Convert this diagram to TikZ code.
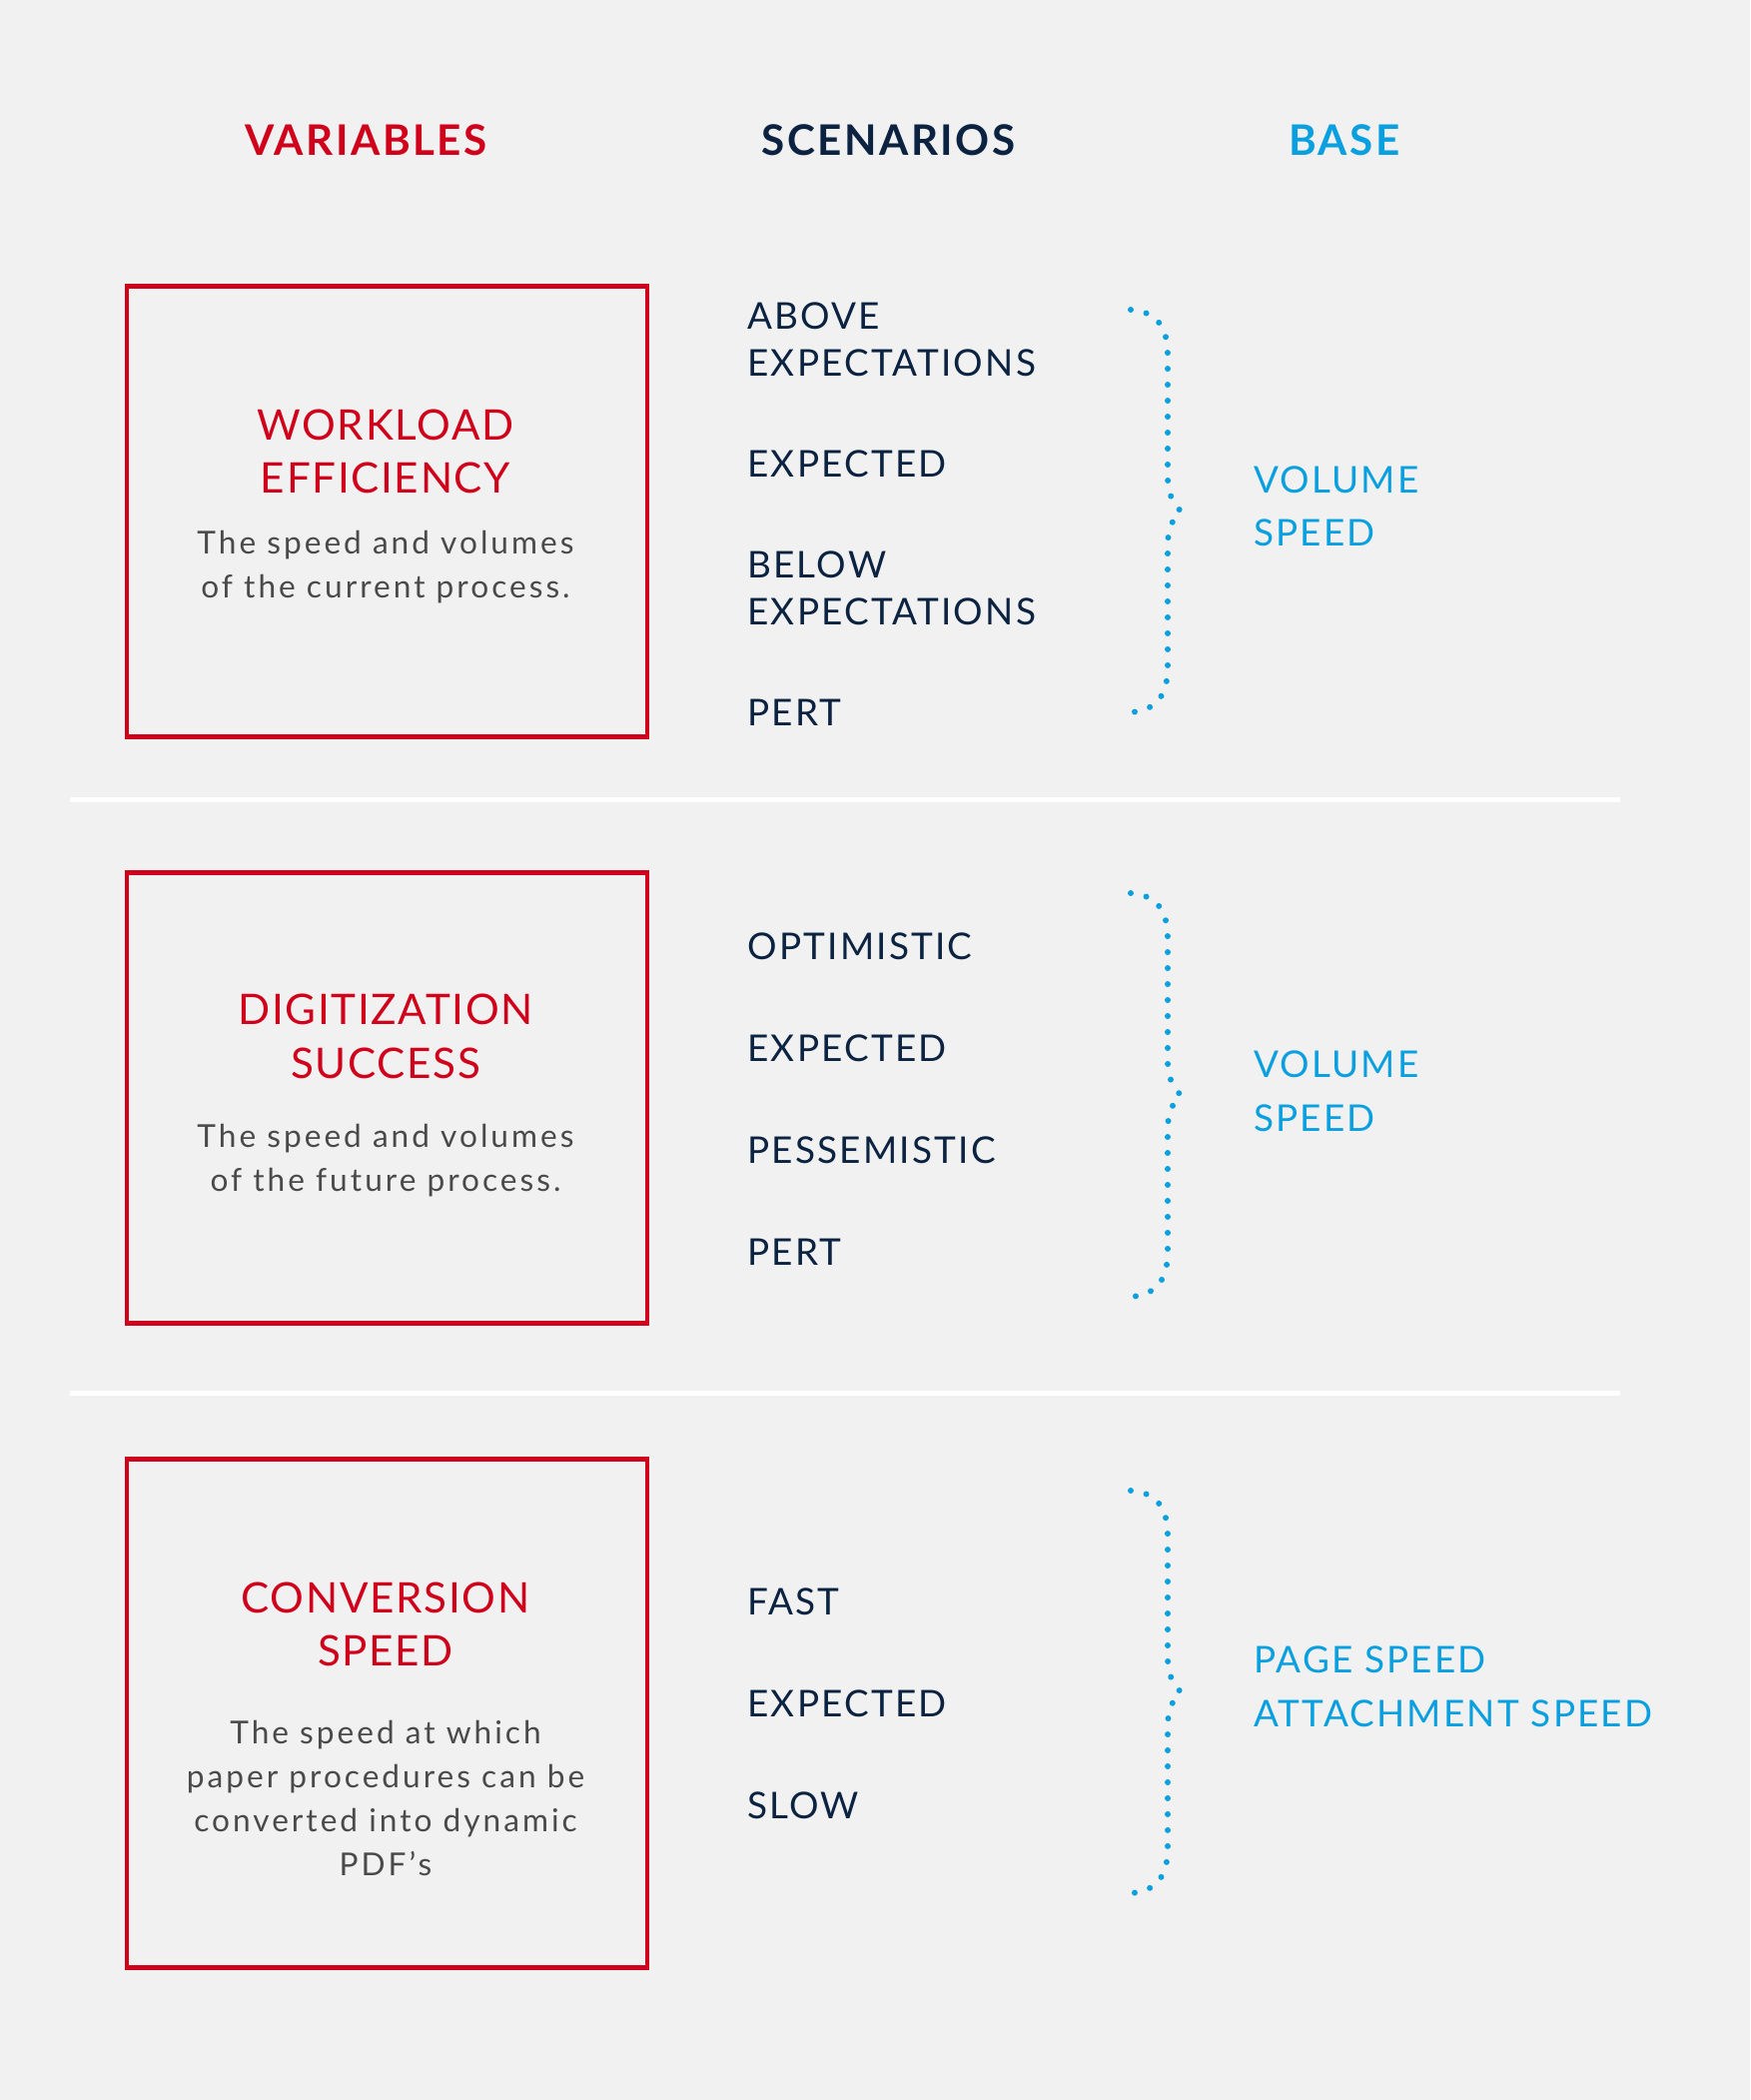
\documentclass[tikz,border=0pt]{standalone}
\usepackage{fontspec}
\setmainfont{Lato}
\newfontfamily\labelfont[LetterSpace=6]{Lato}
\newfontfamily\titlefont[LetterSpace=4]{Lato}
\newfontfamily\bodyfont[LetterSpace=9.5]{Lato}
\usetikzlibrary{positioning,calc}
\definecolor{varred}{HTML}{D0021B}
\definecolor{scennavy}{HTML}{0B2341}
\definecolor{baseblue}{HTML}{0AA0E0}
\definecolor{bodygray}{HTML}{4A4A4A}
\definecolor{pagegray}{HTML}{F1F1F1}

\begin{document}
\begin{tikzpicture}[x=0.02cm, y=-0.02cm, inner sep=0pt]
\tikzstyle{head}=[font=\labelfont\bfseries\fontsize{24}{29}\selectfont]
\tikzstyle{varbox}=[draw=varred, line width=2.6pt, minimum width=10.42cm]
\tikzstyle{vartitle}=[font=\titlefont\fontsize{24}{30.5}\selectfont, text=varred, align=center]
\tikzstyle{vartext}=[font=\bodyfont\fontsize{18}{25}\selectfont, text=bodygray, align=center]
\tikzstyle{scen}=[font=\labelfont\fontsize{21}{26.7}\selectfont, text=scennavy, align=left, anchor=west]
\tikzstyle{base}=[font=\labelfont\fontsize{21}{30.5}\selectfont, text=baseblue, align=left, anchor=west]
\tikzstyle{sepline}=[draw=white, line width=2.9pt]
\tikzstyle{bracedots}=[draw=baseblue, line width=3.4pt, line cap=round, dash pattern=on 0pt off 9.1pt]

\fill[pagegray] (0,0) rectangle (1752,2102);
\useasboundingbox (0,0) rectangle (1752,2102);

% column heads
\node[head, text=varred]   (hVar)  at (366.6,140.7)  {VARIABLES};
\node[head, text=scennavy] (hScen) at (889.4,140.7)  {SCENARIOS};
\node[head, text=baseblue] (hBase) at (1345.9,140.7) {BASE};

% variables
\node[varbox, minimum height=9.02cm]  (V1) at (387.5,512)    {};
\node[varbox, minimum height=9.02cm]  (V2) at (387.5,1099.2) {};
\node[varbox, minimum height=10.18cm] (V3) at (387.5,1715.2) {};

\node[vartitle] (T1) at (386,451.7)  {WORKLOAD\\EFFICIENCY};
\node[vartext]  (D1) at (386,567.7)  {The speed and volumes\\of the current process.};
\node[vartitle] (T2) at (386,1037.5) {DIGITIZATION\\SUCCESS};
\node[vartext]  (D2) at (386,1161.5) {The speed and volumes\\of the future process.};
\node[vartitle] (T3) at (386,1626)   {CONVERSION\\SPEED};
\node[vartext]  (D3) at (386,1800.3) {The speed at which\\paper procedures can be\\converted into dynamic\\PDF’s};

% separators
\draw[sepline] (69.7,800.3) -- (1622,800.3);
\draw[sepline] (69.7,1394.1) -- (1622,1394.1);

% scenarios
\node[scen] (S1a) at (748,339.9) {ABOVE\\EXPECTATIONS};
\node[scen] (S1b) at (748,463.8) {EXPECTED};
\node[scen] (S1c) at (748,589.2) {BELOW\\EXPECTATIONS};
\node[scen] (S1d) at (748,713.1) {PERT};

\node[scen] (S2a) at (748,947.7) {OPTIMISTIC};
\node[scen] (S2b) [below=2.04cm of S2a.west, anchor=west] {EXPECTED};
\node[scen] (S2c) [below=2.04cm of S2b.west, anchor=west] {PESSEMISTIC};
\node[scen] (S2d) [below=2.04cm of S2c.west, anchor=west] {PERT};

\node[scen] (S3a) at (748,1603.2) {FAST};
\node[scen] (S3b) [below=2.04cm of S3a.west, anchor=west] {EXPECTED};
\node[scen] (S3c) [below=2.04cm of S3b.west, anchor=west] {SLOW};

% braces
\foreach \t/\b in {310/713, 894/1298, 1492/1895}{
  \pgfmathsetmacro{\m}{(\t+\b)/2}
  \draw[bracedots] (1132,\t) .. controls (1160,\t+2) and (1169,\t+20) .. (1169,\t+45)
    -- (1169,\m-35) .. controls (1169,\m-15) and (1176,\m-6) .. (1182,\m)
    .. controls (1176,\m+6) and (1169,\m+15) .. (1169,\m+35)
    -- (1169,\b-45) .. controls (1169,\b-20) and (1160,\b-2) .. (1132,\b);
}

% base
\node[base] (B1) at (1254.7,506.7)  {VOLUME\\SPEED};
\node[base] (B2) at (1254.7,1092.5) {VOLUME\\SPEED};
\node[base] (B3) at (1254.7,1688.4) {PAGE SPEED\\ATTACHMENT SPEED};
\end{tikzpicture}
\end{document}
